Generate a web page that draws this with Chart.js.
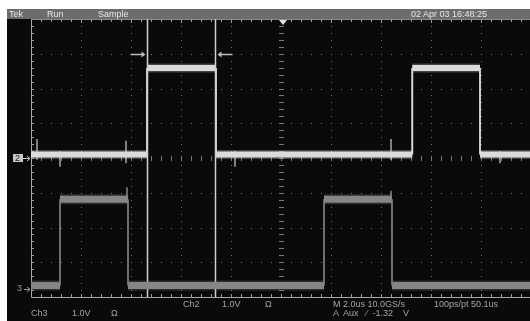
<!DOCTYPE html>
<html><head><meta charset="utf-8">
<script src="https://cdn.jsdelivr.net/npm/chart.js@4.4.0/dist/chart.umd.min.js"></script>
<style>
html,body{margin:0;padding:0;background:#fff;width:530px;height:321px;overflow:hidden}
#wrap{position:relative;width:530px;height:321px}
canvas{position:absolute;left:0;top:0}
.t{position:absolute;font-family:"Liberation Sans",Arial,sans-serif;font-size:9px;line-height:10px;white-space:pre;color:#a4a4a4}
.top{color:#e8e8e8}
</style></head><body>
<div id="wrap">
<canvas id="c" width="530" height="321"></canvas>
<div class="t top" style="left:9px;top:9px">Tek</div>
<div class="t top" style="left:47px;top:9px">Run</div>
<div class="t top" style="left:98px;top:9px">Sample</div>
<div class="t top" style="left:411px;top:9px">02 Apr 03 16:48:25</div>
<div class="t" style="left:183px;top:299px">Ch2</div>
<div class="t" style="left:222px;top:299px">1.0V</div>
<div class="t" style="left:265px;top:299px">Ω</div>
<div class="t" style="left:333px;top:299px">M 2.0us 10.0GS/s</div>
<div class="t" style="left:434px;top:299px">100ps/pt 50.1us</div>
<div class="t" style="left:31px;top:308px">Ch3</div>
<div class="t" style="left:72px;top:308px">1.0V</div>
<div class="t" style="left:111px;top:308px">Ω</div>
<div class="t" style="left:333px;top:308px">A  Aux   ⁄  -1.32    V</div>
<div class="t" style="left:17px;top:283px;color:#9a9a9a">3</div>
</div>
<script>
// ---- data (time in µs, values in volts) ----
const voltsPerDiv = 1.0;
const ch2Offset = 0.0;      // divisions (marker position)
const ch3Offset = -3.77;    // divisions
const ch2Times = [0, 4.64, 4.64, 7.40, 7.40, 15.25, 15.25, 17.96, 17.96, 19.96];
const ch2Volts = [0.10, 0.10, 2.59, 2.59, 0.10, 0.10, 2.59, 2.59, 0.10, 0.10];
const ch3Times = [0, 1.16, 1.16, 3.88, 3.88, 11.72, 11.72, 14.44, 14.44, 19.96];
const ch3Volts = [0.10, 0.10, 2.58, 2.58, 0.10, 0.10, 2.58, 2.58, 0.10, 0.10];
// glitches on ch2: time, upward size, downward size (volts)
const ch2GlitchTimes = [0.24, 1.16, 3.80, 8.16, 14.40, 18.76];
const ch2GlitchUp    = [0.45, 0.10, 0.40, 0.10, 0.45, 0.10];
const ch2GlitchDown  = [0.15, 0.35, 0.25, 0.35, 0.15, 0.25];
// overshoot glitches on ch3 high level
const ch3GlitchTimes = [3.84, 14.40];
const ch3GlitchUp    = [0.35, 0.25];
const cursorTimes = [4.66, 7.38];
const cursorLevel = 3.0;   // division where cursor arrows sit
const triggerTime = 10.08;

function toDiv(v, off){ return v / voltsPerDiv + off; }
function trace(times, volts, off){ return times.map((t,i)=>({x:t, y:toDiv(volts[i], off)})); }
function glitches(times, base, up, down, off){
  const out=[];
  times.forEach((t,i)=>{ out.push({x:t,y:toDiv(base-(down?down[i]:0),off)}); out.push({x:t,y:toDiv(base+up[i],off)}); out.push({x:t,y:null}); });
  return out;
}
function segW(thick, thin){ return { borderWidth: c => (c.p0.parsed.x === c.p1.parsed.x ? thin : thick) }; }

const ch2Data = trace(ch2Times, ch2Volts, ch2Offset);
const ch3Data = trace(ch3Times, ch3Volts, ch3Offset);
const cursorData = [];
cursorTimes.forEach(t=>{ cursorData.push({x:t,y:-4.2}); cursorData.push({x:t,y:4.2}); cursorData.push({x:t,y:null}); });

const scopePlugin = {
  id:'scope',
  beforeDraw(chart){
    const c = chart.ctx, xs = chart.scales.x, ys = chart.scales.y;
    c.save();
    c.fillStyle = '#ffffff'; c.fillRect(0,0,530,321);
    c.fillStyle = '#0a0a0a'; c.fillRect(7,9,523,312);
    c.fillStyle = '#6c6c6c'; c.fillRect(7,9,523,10);
    const L = xs.getPixelForValue(0), R = xs.getPixelForValue(20);
    const T = ys.getPixelForValue(4), B = ys.getPixelForValue(-4);
    const dx = (R-L)/50, dy = (B-T)/40;
    // dotted graticule
    c.fillStyle = '#747474';
    for(let i=1;i<10;i++){
      const x = Math.round(xs.getPixelForValue(i*2));
      for(let k=1;k<40;k++){ c.fillRect(x, Math.round(T+k*dy), 1, 1); }
    }
    for(let j=-3;j<=3;j++){
      const y = Math.round(ys.getPixelForValue(j));
      for(let k=1;k<50;k++){ c.fillRect(Math.round(L+k*dx), y, 1, 1); }
    }
    // centre axis ticks
    const cx = Math.round(xs.getPixelForValue(10)), cy = Math.round(ys.getPixelForValue(0));
    c.fillStyle = '#7a7a7a';
    for(let k=1;k<40;k++){ c.fillRect(cx-2, Math.round(T+k*dy), 5, 1); }
    for(let k=1;k<50;k++){ c.fillRect(Math.round(L+k*dx), cy-2, 1, 5); }
    // border + edge ticks
    c.strokeStyle = '#a8a8a8'; c.lineWidth = 1;
    c.beginPath();
    c.moveTo(Math.round(L)+0.5, T); c.lineTo(Math.round(L)+0.5, Math.round(B)+0.5);
    c.lineTo(530, Math.round(B)+0.5);
    c.stroke();
    c.strokeStyle = '#8a8a8a';
    c.beginPath(); c.moveTo(L, Math.round(T)+0.5); c.lineTo(530, Math.round(T)+0.5); c.stroke();
    c.fillStyle = '#9a9a9a';
    for(let k=1;k<50;k++){ const x=Math.round(L+k*dx); c.fillRect(x, Math.round(T), 1, k%5===0?4:3); c.fillRect(x, Math.round(B)-3, 1, 3); }
    for(let k=1;k<40;k++){ const y=Math.round(T+k*dy); c.fillRect(Math.round(L), y, 3, 1); }
    c.restore();
  },
  afterDatasetsDraw(chart){
    const c = chart.ctx, xs = chart.scales.x, ys = chart.scales.y;
    c.save();
    // cursor arrows
    const ay = Math.round(ys.getPixelForValue(cursorLevel))+0.5;
    const x1 = xs.getPixelForValue(cursorTimes[0]), x2 = xs.getPixelForValue(cursorTimes[1]);
    c.strokeStyle = '#bdbdbd'; c.fillStyle = '#bdbdbd'; c.lineWidth = 1.5;
    c.beginPath(); c.moveTo(x1-17, ay); c.lineTo(x1-5, ay); c.stroke();
    c.beginPath(); c.moveTo(x1-2, ay); c.lineTo(x1-6, ay-3); c.lineTo(x1-6, ay+3); c.closePath(); c.fill();
    c.beginPath(); c.moveTo(x2+17, ay); c.lineTo(x2+5, ay); c.stroke();
    c.beginPath(); c.moveTo(x2+2, ay); c.lineTo(x2+6, ay-3); c.lineTo(x2+6, ay+3); c.closePath(); c.fill();
    // trigger position marker
    const tx = xs.getPixelForValue(triggerTime), ty = ys.getPixelForValue(4);
    c.fillStyle = '#e0e0e0';
    c.beginPath(); c.moveTo(tx-4, ty+1); c.lineTo(tx+4, ty+1); c.lineTo(tx, ty+6); c.closePath(); c.fill();
    // channel ground markers
    const y2 = ys.getPixelForValue(ch2Offset), y3 = ys.getPixelForValue(ch3Offset);
    c.fillStyle = '#c8c8c8'; c.fillRect(13, y2-4, 10, 8);
    c.fillStyle = '#202020'; c.font = '9px "Liberation Sans", Arial'; c.textBaseline='middle'; c.fillText('2', 15, y2+0.5);
    c.strokeStyle = '#c8c8c8'; c.lineWidth = 1;
    c.beginPath(); c.moveTo(23, y2+0.5); c.lineTo(30, y2+0.5); c.stroke();
    c.beginPath(); c.moveTo(30, y2+0.5); c.lineTo(27, y2-2); c.moveTo(30,y2+0.5); c.lineTo(27,y2+3); c.stroke();
    c.strokeStyle = '#9a9a9a';
    c.beginPath(); c.moveTo(24, y3+0.5); c.lineTo(30, y3+0.5); c.moveTo(30, y3+0.5); c.lineTo(27, y3-2); c.moveTo(30,y3+0.5); c.lineTo(27,y3+3); c.stroke();
    c.restore();
  }
};

new Chart(document.getElementById('c'), {
  type:'line',
  data:{ datasets:[
    {data:ch3Data, borderColor:'rgba(130,130,130,0.3)', segment:segW(10,2), pointRadius:0, borderCapStyle:'butt'},
    {data:ch3Data, borderColor:'#888888', segment:segW(7,1.5), pointRadius:0, borderCapStyle:'butt'},
    {data:glitches(ch3GlitchTimes, 2.58, ch3GlitchUp, null, ch3Offset), borderColor:'#888888', borderWidth:1.5, pointRadius:0, spanGaps:false},
    {data:cursorData, borderColor:'#cfcfcf', borderWidth:1.5, pointRadius:0, spanGaps:false},
    {data:ch2Data, borderColor:'rgba(220,220,220,0.28)', segment:segW(9,2), pointRadius:0, borderCapStyle:'butt'},
    {data:ch2Data, borderColor:'#dadada', segment:segW(6,1.8), pointRadius:0, borderCapStyle:'butt'},
    {data:glitches(ch2GlitchTimes, 0.10, ch2GlitchUp, ch2GlitchDown, ch2Offset), borderColor:'#d0d0d0', borderWidth:1.2, pointRadius:0, spanGaps:false}
  ]},
  options:{
    responsive:false, animation:false, devicePixelRatio:1,
    layout:{padding:{left:31, top:19, right:0, bottom:24}},
    plugins:{legend:{display:false}, tooltip:{enabled:false}},
    elements:{line:{tension:0}},
    scales:{
      x:{type:'linear', min:0, max:19.96, display:false},
      y:{type:'linear', min:-4, max:4, display:false}
    }
  },
  plugins:[scopePlugin]
});
</script>
</body></html>
